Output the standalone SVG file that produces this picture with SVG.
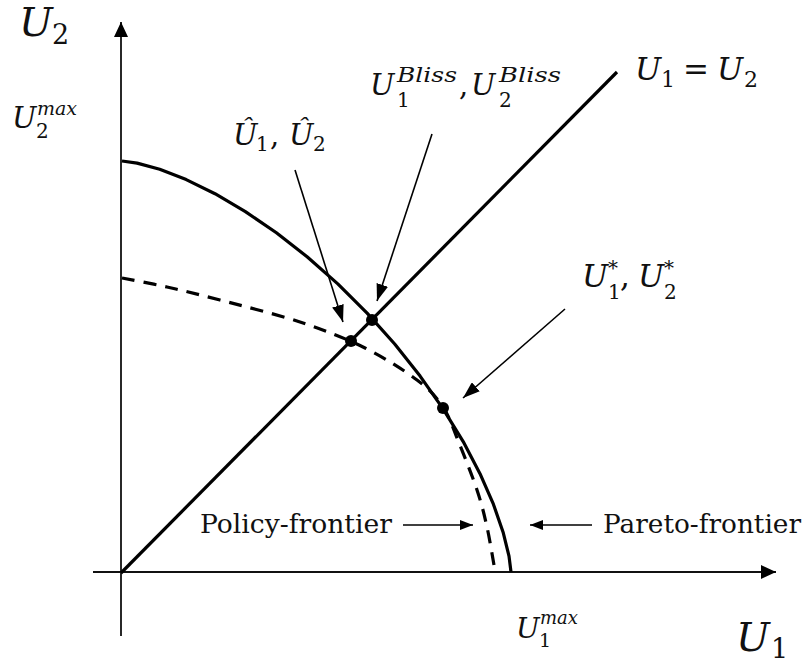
<svg xmlns="http://www.w3.org/2000/svg" width="810" height="666" viewBox="0 0 810 666">
<style>
.i{font-style:italic}
.axis{stroke:#111;stroke-width:1.8;fill:none}
.curve{stroke:#000;stroke-width:3.2;fill:none}
.dash{stroke:#000;stroke-width:3.2;fill:none;stroke-dasharray:13 9}
.ptr{stroke:#000;stroke-width:1.6;fill:none}
.dot{fill:#000}
</style>
<defs>
<marker id="axh" markerUnits="userSpaceOnUse" markerWidth="16" markerHeight="14" refX="15" refY="7" orient="auto">
<path d="M0,0 L15,7 L0,14 z" fill="#000"/>
</marker>
<marker id="ah" markerUnits="userSpaceOnUse" markerWidth="18" markerHeight="12" refX="17" refY="6" orient="auto">
<path d="M0,0 L17,6 L0,12 z" fill="#000"/>
</marker>
<marker id="ahs" markerUnits="userSpaceOnUse" markerWidth="14" markerHeight="10" refX="13" refY="5" orient="auto">
<path d="M0,0 L13,5 L0,10 z" fill="#000"/>
</marker>
</defs>

<g id="axes">
<line class="axis" x1="121" y1="636" x2="121" y2="22" marker-end="url(#axh)"/>
<line class="axis" x1="93" y1="572" x2="776" y2="572" marker-end="url(#axh)"/>
</g>

<g id="diagonal">
<line class="curve" x1="121" y1="573" x2="617" y2="72"/>
</g>

<g id="pareto-frontier">
<polyline class="curve" points="122,161 137.1,163.1 159.7,169.3 186.2,179.6 215,193.7 245.4,211.6 276.4,232.7 307.4,257 337.8,283.9 367.1,313.1 394.7,344 420.1,376.1 443.1,408.9 463.2,441.6 480,473.7 493.4,504.2 503.1,532.2 509,556.1 511,572" stroke-linejoin="round"/>
</g>

<g id="policy-frontier">
<path class="dash" d="M122,278 C129.5,279.5 150.7,283.3 167,287 C183.3,290.7 197.8,294.2 220,300 C242.2,305.8 275.8,314 300,322 C324.2,330 345.5,338.3 365,348 C384.5,357.7 404,370.2 417,380 C430,389.8 436,396.5 443,407 C450,417.5 453.3,429.2 459,443 C464.7,456.8 472.3,476 477,490 C481.7,504 484.2,514.5 487,527 C489.8,539.5 492.8,558.7 494,565"/>
</g>

<g id="points">
<circle class="dot" cx="372" cy="320" r="6"/>
<circle class="dot" cx="351" cy="341" r="6"/>
<circle class="dot" cx="443" cy="408" r="6"/>
</g>

<g id="connectors">
<line class="ptr" x1="295" y1="170" x2="343" y2="322" marker-end="url(#ah)"/>
<line class="ptr" x1="432" y1="134" x2="377" y2="301" marker-end="url(#ah)"/>
<line class="ptr" x1="565" y1="309" x2="463" y2="398" marker-end="url(#ah)"/>
<line class="ptr" x1="403" y1="525" x2="473" y2="525" marker-end="url(#ahs)"/>
<line class="ptr" x1="592" y1="525" x2="530" y2="525" marker-end="url(#ahs)"/>
</g>

<g id="labels" font-family="DejaVu Serif, serif" fill="#111">
<g id="label-U2-axis">
<text font-size="40"><tspan class="i" x="19" y="36">U</tspan><tspan x="52" y="44" font-size="27">2</tspan></text>
</g>

<g id="label-U2max">
<text font-size="29"><tspan class="i" x="12" y="128">U</tspan><tspan class="i" x="37" y="115" font-size="19">max</tspan><tspan x="36" y="138" font-size="20">2</tspan></text>
</g>

<g id="label-Uhat">
<text font-size="29"><tspan class="i" x="233" y="145">Û</tspan><tspan x="256" y="151" font-size="20">1</tspan><tspan x="270" y="145">,</tspan><tspan class="i" x="289" y="145">Û</tspan><tspan x="313" y="151" font-size="20">2</tspan></text>
</g>

<g id="label-Ubliss">
<text font-size="29"><tspan class="i" x="370" y="95">U</tspan><tspan class="i" x="397" y="82" font-size="20" textLength="60" lengthAdjust="spacingAndGlyphs">Bliss</tspan><tspan x="397" y="107" font-size="20">1</tspan><tspan x="459" y="95">,</tspan><tspan class="i" x="471" y="95">U</tspan><tspan class="i" x="499" y="82" font-size="20" textLength="62" lengthAdjust="spacingAndGlyphs">Bliss</tspan><tspan x="499" y="107" font-size="20">2</tspan></text>
</g>

<g id="label-diagonal">
<text font-size="31"><tspan class="i" x="635" y="80">U</tspan><tspan x="661" y="87" font-size="22">1</tspan><tspan x="683" y="80">=</tspan><tspan class="i" x="717" y="80">U</tspan><tspan x="744" y="87" font-size="22">2</tspan></text>
</g>

<g id="label-Ustar">
<text font-size="31"><tspan class="i" x="582" y="287">U</tspan><tspan x="608" y="275" font-size="20">*</tspan><tspan x="608" y="299" font-size="20">1</tspan><tspan x="620" y="287">,</tspan><tspan class="i" x="638" y="287">U</tspan><tspan x="664" y="275" font-size="20">*</tspan><tspan x="664" y="299" font-size="20">2</tspan></text>
</g>

<g id="label-policy">
<text x="200" y="533" font-size="26" textLength="192" lengthAdjust="spacingAndGlyphs">Policy-frontier</text>
</g>

<g id="label-pareto">
<text x="603" y="533" font-size="26" textLength="198" lengthAdjust="spacingAndGlyphs">Pareto-frontier</text>
</g>

<g id="label-U1max">
<text font-size="28"><tspan class="i" x="516" y="638">U</tspan><tspan class="i" x="540" y="624" font-size="18">max</tspan><tspan x="539" y="647" font-size="19">1</tspan></text>
</g>

<g id="label-U1-axis">
<text font-size="40"><tspan class="i" x="736" y="651">U</tspan><tspan x="771" y="658" font-size="27">1</tspan></text>
</g>
</g>
</svg>
